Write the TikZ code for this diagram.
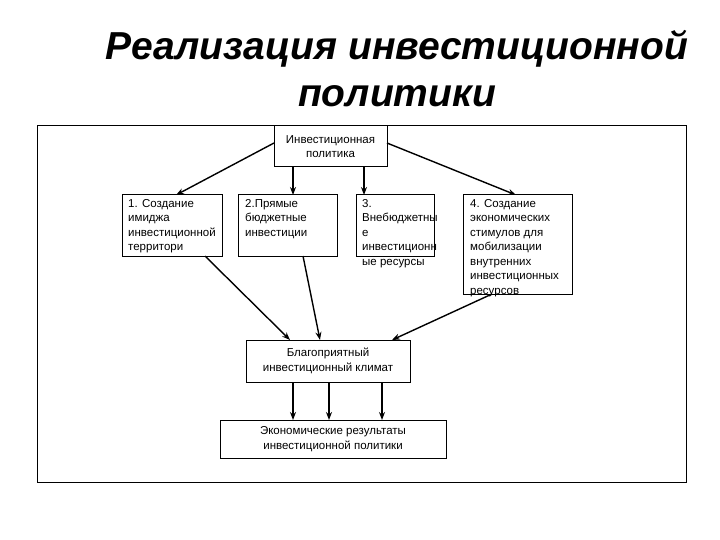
\documentclass[tikz,border=0pt]{standalone}
\usepackage{fontspec}
\setmainfont{Liberation Sans}
\usetikzlibrary{arrows.meta}
\begin{document}
\begin{tikzpicture}[x=1pt,y=-1pt,
  bx/.style={draw,line width=1pt,fill=white},
  lbl/.style={font=\fontsize{11.5}{14.5}\selectfont,align=left,anchor=north west,inner sep=0pt},
  ctr/.style={font=\fontsize{11.5}{14.5}\selectfont,align=center,inner sep=0pt},
  ar/.style={-{Stealth[length=8pt,width=6pt]},line width=1.4pt}]
\useasboundingbox (0,0) rectangle (720,540);
\node[font=\fontsize{39}{47}\selectfont\bfseries\itshape,align=center] (title) at (397,69) {Реализация инвестиционной\\политики};
\draw[line width=1pt] (37,126) rectangle (686,482);
\draw[bx] (274,126) rectangle (387,167);
\node[ctr] (top) at (330.5,146.5) {Инвестиционная\\политика};
\draw[bx] (122,195) rectangle (222,256);
\node[lbl] (b1) at (128,199) {1. Создание\\имиджа\\инвестиционной\\территори};
\draw[bx] (238,195) rectangle (337,256);
\node[lbl] (b2) at (245,199) {2.Прямые\\бюджетные\\инвестиции};
\draw[bx] (356,195) rectangle (434,256);
\node[lbl] (b3) at (362,199) {3.\\Внебюджетны\\е\\инвестиционн\\ые ресурсы};
\draw[bx] (463,195) rectangle (572,294);
\node[lbl] (b4) at (470,199) {4. Создание\\экономических\\стимулов для\\мобилизации\\внутренних\\инвестиционных\\ресурсов};
\draw[bx] (246,340) rectangle (410,382);
\node[ctr] (cl) at (328,361) {Благоприятный\\инвестиционный климат};
\draw[bx] (220,420) rectangle (446,458);
\node[ctr] (res) at (333,439) {Экономические результаты\\инвестиционной политики};
\coordinate (t1) at (274,143); \coordinate (t1e) at (176,195);
\coordinate (t2) at (293,167); \coordinate (t2e) at (293,195);
\coordinate (t3) at (364,167); \coordinate (t3e) at (364,195);
\coordinate (t4) at (387,143); \coordinate (t4e) at (516,195);
\draw[ar] (t1) -- (t1e);
\draw[ar] (t2) -- (t2e);
\draw[ar] (t3) -- (t3e);
\draw[ar] (t4) -- (t4e);
\coordinate (u1) at (205,256); \coordinate (u1e) at (290,340);
\coordinate (u2) at (303,256); \coordinate (u2e) at (320,340);
\coordinate (u4) at (492,294); \coordinate (u4e) at (392,340);
\draw[ar] (u1) -- (u1e);
\draw[ar] (u2) -- (u2e);
\draw[ar] (u4) -- (u4e);
\foreach \x in {293,329,382}{\draw[ar] (\x,382) -- (\x,420);}
\end{tikzpicture}
\end{document}
